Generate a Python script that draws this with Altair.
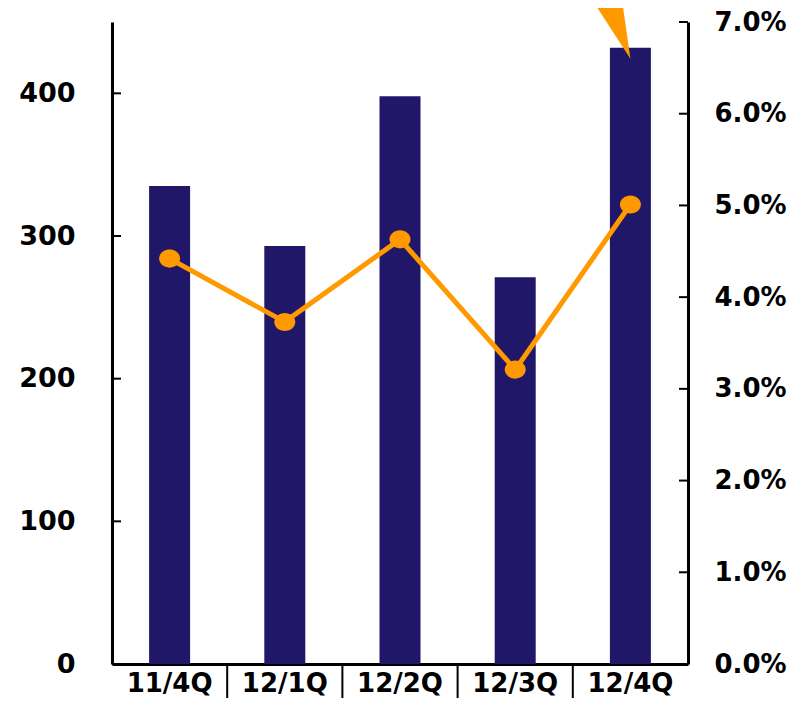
import altair as alt
import pandas as pd

# ---- data ----
quarters = ["11/4Q", "12/1Q", "12/2Q", "12/3Q", "12/4Q"]
volumes = [335, 293, 398, 271, 432]          # left axis (bars)
ratios = [4.42, 3.73, 4.63, 3.21, 5.01]      # right axis, percent (line)
left_ticks = [0, 100, 200, 300, 400]
right_ticks = [0, 1, 2, 3, 4, 5, 6, 7]

NAVY = "#211768"
ORANGE = "#FF9900"
FONT = "DejaVu Sans"
W, H = 576, 642

bars_df = pd.DataFrame({"quarter": quarters, "volume": volumes})
line_df = pd.DataFrame({"quarter": quarters, "ratio": ratios})
lt_df = pd.DataFrame({"volume": left_ticks})
rt_df = pd.DataFrame({"ratio": right_ticks})
sep_df = pd.DataFrame({"quarter": quarters[:-1]})
arrow_df = bars_df[bars_df["quarter"] == quarters[-1]]

x_scale = alt.Scale(domain=quarters, paddingInner=0, paddingOuter=0)
x_axis = alt.Axis(title=None, labelAngle=0, labelFont=FONT, labelFontWeight="bold",
                  labelFontSize=26, labelColor="black", labelPadding=6,
                  ticks=False, tickSize=0, domainColor="black", domainWidth=3,
                  grid=False)
x_enc = alt.X("quarter:N", scale=x_scale, axis=x_axis, sort=quarters)

yl_scale = alt.Scale(domain=[0, 450], nice=False, zero=True)
yl_axis = alt.Axis(title=None, values=left_ticks, labelFont=FONT, labelFontWeight="bold",
                   labelFontSize=27, labelColor="black", labelPadding=37,
                   ticks=False, tickSize=0, domainColor="black", domainWidth=3,
                   grid=False, orient="left")
yl_enc = alt.Y("volume:Q", scale=yl_scale, axis=yl_axis)

yr_scale = alt.Scale(domain=[0, 7], nice=False, zero=True)
yr_axis = alt.Axis(title=None, values=right_ticks, labelFont=FONT, labelFontWeight="bold",
                   labelFontSize=26, labelColor="black", labelPadding=26,
                   labelExpr="format(datum.value, '.1f') + '%'",
                   ticks=False, tickSize=0, domainColor="black", domainWidth=3,
                   grid=False, orient="right")
yr_enc = alt.Y("ratio:Q", scale=yr_scale, axis=yr_axis)

bars = alt.Chart(bars_df).mark_bar(color=NAVY, size=41).encode(x=x_enc, y=yl_enc)

left_tick_rules = alt.Chart(lt_df).mark_rule(color="black", strokeWidth=2).encode(
    y=yl_enc, x=alt.value(0), x2=alt.value(9))

arrow = alt.Chart(arrow_df).mark_point(
    filled=True, opacity=1, color=ORANGE, strokeWidth=0,
    shape="M0,0.167 L-0.758,-1 L-0.167,-1 Z", size=17424, clip=False
).encode(x=x_enc, y=yl_enc)

separators = alt.Chart(sep_df).mark_rule(color="black", strokeWidth=2, clip=False).encode(
    x=alt.X("quarter:N", scale=x_scale, axis=x_axis, sort=quarters, bandPosition=1),
    y=alt.value(H), y2=alt.value(H + 50))

left_group = alt.layer(bars, arrow, left_tick_rules, separators)

line = alt.Chart(line_df).mark_line(color=ORANGE, strokeWidth=5).encode(x=x_enc, y=yr_enc)
dots = alt.Chart(line_df).mark_point(
    filled=True, opacity=1, color=ORANGE, strokeWidth=0,
    shape="M-1,0 A1,0.86 0 1,1 1,0 A1,0.86 0 1,1 -1,0 Z", size=441
).encode(x=x_enc, y=yr_enc)
right_tick_rules = alt.Chart(rt_df).mark_rule(color="black", strokeWidth=2).encode(
    y=yr_enc, x=alt.value(W - 9), x2=alt.value(W))

right_group = alt.layer(line, dots, right_tick_rules)

chart = alt.layer(left_group, right_group).resolve_scale(y="independent").properties(
    width=W, height=H,
    autosize=alt.AutoSizeParams(type="none"),
    padding={"left": 104, "top": 14, "right": 102, "bottom": 34},
    background="white",
).configure_view(stroke=None)

chart.save("out.html", embed_options={"renderer": "svg", "actions": False})
